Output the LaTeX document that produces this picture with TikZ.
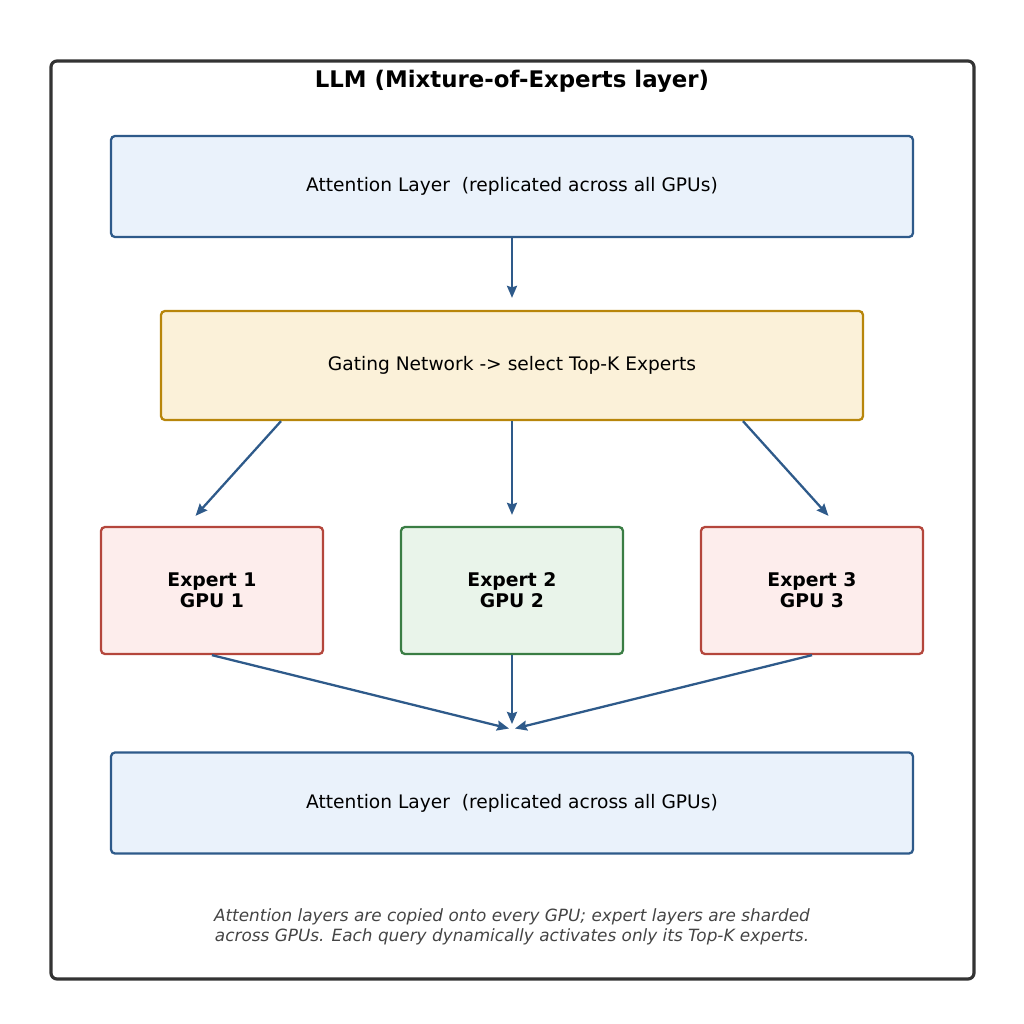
\documentclass[tikz,border=0pt]{standalone}
\usepackage{fontspec}
\setmainfont{DejaVu Sans}
\usepackage{tikz}
\usetikzlibrary{arrows, arrows.meta}
\definecolor{lineblue}{RGB}{46,90,138}
\definecolor{attfill}{RGB}{234,242,251}
\definecolor{gatefill}{RGB}{251,241,217}
\definecolor{gateline}{RGB}{184,134,11}
\definecolor{redfill}{RGB}{253,237,236}
\definecolor{redline}{RGB}{180,70,60}
\definecolor{greenfill}{RGB}{233,244,234}
\definecolor{greenline}{RGB}{58,125,68}
\definecolor{frameline}{RGB}{51,51,51}
\definecolor{notegray}{RGB}{68,68,68}
\tikzstyle{frame} = [rectangle, rounded corners=0.12cm, draw=frameline,
line width=1.8pt, minimum width=18.46cm, minimum height=18.36cm]
\tikzstyle{attn} = [rectangle, rounded corners=0.08cm, minimum width=16.04cm,
minimum height=2.02cm, text centered, draw=lineblue, fill=attfill,
line width=1.3pt, font=\fontsize{10.6}{12}\selectfont]
\tikzstyle{gate} = [rectangle, rounded corners=0.08cm, minimum width=14.04cm,
minimum height=2.18cm, text centered, draw=gateline, fill=gatefill,
line width=1.3pt, font=\fontsize{10.6}{12}\selectfont]
\tikzstyle{expert} = [rectangle, rounded corners=0.08cm, minimum width=4.44cm,
minimum height=2.54cm, align=center, line width=1.3pt,
font=\fontsize{10.7}{12}\selectfont\bfseries]
\tikzstyle{arrow} =
[line width=1.3pt, draw=lineblue,
-{Stealth[length=0.24cm, width=0.2cm, inset=0.03cm]}]

\begin{document}
\begin{tikzpicture}[node distance=4.5cm]
\useasboundingbox (0,0) rectangle (20.48,-20.48);

\node(frame)[frame] at (10.25,-10.4){};
\node(title)[font=\fontsize{13}{15}\selectfont\bfseries] at (10.24,-1.62)
{LLM (Mixture-of-Experts layer)};

\node(att1)[attn] at (10.24,-3.73){Attention Layer\ \ (replicated across all GPUs)};
\node(gating)[gate, below of=att1, yshift=0.92cm]{Gating Network -> select Top-K Experts};
\node(e2)[expert, draw=greenline, fill=greenfill, below of=gating]{Expert 2\\GPU 2};
\node(e1)[expert, draw=redline, fill=redfill, left of=e2, xshift=-1.5cm]{Expert 1\\GPU 1};
\node(e3)[expert, draw=redline, fill=redfill, right of=e2, xshift=1.5cm]{Expert 3\\GPU 3};
\node(att2)[attn, below of=e2, yshift=0.25cm]{Attention Layer\ \ (replicated across all GPUs)};
\node(note)[below of=att2, yshift=2.02cm, align=center, text=notegray,
font=\fontsize{9.6}{11.2}\selectfont\itshape]
{Attention layers are copied onto every GPU; expert layers are sharded\\
across GPUs. Each query dynamically activates only its Top-K experts.};
\coordinate(merge) at (10.24,-14.62);

\draw[arrow](att1) -- ([yshift=0.24cm]gating.north);
\draw[arrow]([xshift=-4.62cm]gating.south) -- ([xshift=-0.33cm,yshift=0.2cm]e1.north);
\draw[arrow](gating) -- ([yshift=0.22cm]e2.north);
\draw[arrow]([xshift=4.62cm]gating.south) -- ([xshift=0.33cm,yshift=0.2cm]e3.north);
\draw[arrow](e1.south) -- ([xshift=-0.06cm,yshift=0.05cm]merge);
\draw[arrow](e2) -- ([yshift=0.14cm]merge);
\draw[arrow](e3.south) -- ([xshift=0.06cm,yshift=0.05cm]merge);

\end{tikzpicture}
\end{document}
